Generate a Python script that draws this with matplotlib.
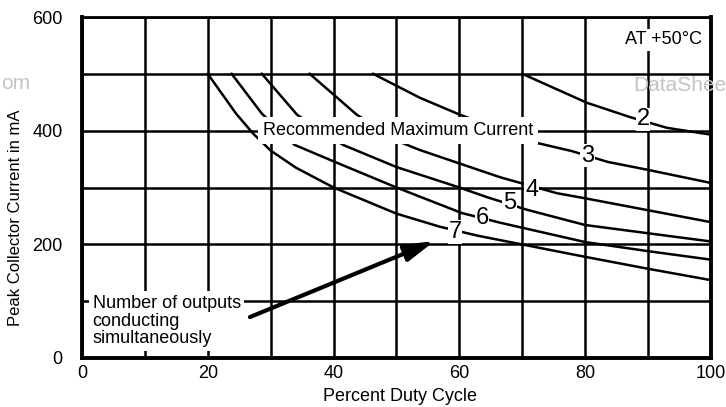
import matplotlib
matplotlib.use("Agg")
import matplotlib.pyplot as plt

plt.rcParams['font.family'] = ['Liberation Sans', 'DejaVu Sans']

# curves: number of outputs conducting simultaneously
c2_x = [70, 80.3, 87.1, 93, 100]
c2_y = [500, 449, 424, 405, 393]
c3_x = [46.3, 53.7, 60.1, 72.5, 77.9, 83.6, 90, 100]
c3_y = [500, 458, 428, 378, 364, 345, 331, 308]
c4_x = [36.2, 43.7, 51, 53.7, 66.5, 75.5, 80, 100]
c4_y = [500, 428, 378, 366, 318, 290, 281, 239]
c5_x = [28.6, 34.2, 41.5, 50, 60, 64.4, 70.7, 80, 100]
c5_y = [500, 428, 375, 336, 300, 283, 261, 234, 205]
c6_x = [23.8, 28.6, 33.8, 40, 50, 60.4, 66.5, 80, 90, 100]
c6_y = [500, 430, 375, 346, 300, 255, 238, 204, 188, 173]
c7_x = [20, 24.5, 27.2, 30, 34, 40, 50, 56.9, 63, 80, 90, 100]
c7_y = [500, 430, 395, 365, 335, 300, 254, 231, 215, 178, 157, 137]

curves = [(c2_x, c2_y), (c3_x, c3_y), (c4_x, c4_y),
          (c5_x, c5_y), (c6_x, c6_y), (c7_x, c7_y)]

# curve labels and where they sit
label_text = ['2', '3', '4', '5', '6', '7']
label_x = [89.2, 80.4, 71.5, 68.0, 63.6, 59.3]
label_y = [420, 356, 295, 272, 246, 222]

x_ticks = [0, 20, 40, 60, 80, 100]
y_ticks = [0, 200, 400, 600]

fig = plt.figure(figsize=(7.26, 4.07), dpi=100)
ax = fig.add_axes([0.1129, 0.1204, 0.8664, 0.8378])

ax.set_xlim(0, 100)
ax.set_ylim(0, 600)
ax.set_xticks(x_ticks)
ax.set_xticks([10, 30, 50, 70, 90], minor=True)
ax.set_yticks(y_ticks)
ax.set_yticks([100, 300, 500], minor=True)
ax.tick_params(which='both', length=0)
ax.tick_params(axis='x', pad=5, labelsize=13)
ax.tick_params(axis='y', pad=14, labelsize=13)
ax.grid(True, which='both', color='black', linewidth=1.8)
ax.set_axisbelow(True)

for s in ['left', 'bottom', 'right']:
    ax.spines[s].set_linewidth(2.8)
ax.spines['top'].set_linewidth(2.0)

for cx, cy in curves:
    ax.plot(cx, cy, color='black', linewidth=1.8, zorder=3)

for t, lx, ly in zip(label_text, label_x, label_y):
    ax.text(lx, ly, t, fontsize=17, ha='center', va='center', zorder=5,
            bbox=dict(facecolor='white', edgecolor='none', pad=0.5))

ax.text(50.2, 401, 'Recommended Maximum Current', fontsize=13,
        ha='center', va='center', zorder=5,
        bbox=dict(boxstyle='square,pad=0.28', facecolor='white', edgecolor='none'))

ax.text(98.6, 560, 'AT +50°C', fontsize=13, ha='right', va='center', zorder=5,
        bbox=dict(boxstyle='square,pad=0.15', facecolor='white', edgecolor='none'))

ax.text(1.7, 65, 'Number of outputs\nconducting\nsimultaneously', fontsize=13,
        ha='left', va='center', linespacing=1.05, zorder=5,
        bbox=dict(boxstyle='square,pad=0.2', facecolor='white', edgecolor='none'))

ax.annotate('', xy=(56.1, 206), xytext=(26.7, 72), zorder=6,
            arrowprops=dict(arrowstyle='-|>,head_length=0.9,head_width=0.25',
                            mutation_scale=20, lw=3.0, color='black',
                            shrinkA=0, shrinkB=0))

ax.set_xlabel('Percent Duty Cycle', fontsize=13)
ax.set_ylabel('Peak Collector Current in mA', fontsize=12)
ax.xaxis.set_label_coords(0.505, -0.088)
ax.yaxis.set_label_coords(-0.093, 0.41)

# scanned watermark remnants
fig.text(1 / 726, 0.796, 'om', fontsize=15, color='#c4c4c4',
         ha='left', va='center', zorder=0)
fig.text(633 / 726, 0.789, 'DataShee', fontsize=15, color='#c4c4c4',
         ha='left', va='center', zorder=0)

fig.savefig('out.png', dpi=100)
